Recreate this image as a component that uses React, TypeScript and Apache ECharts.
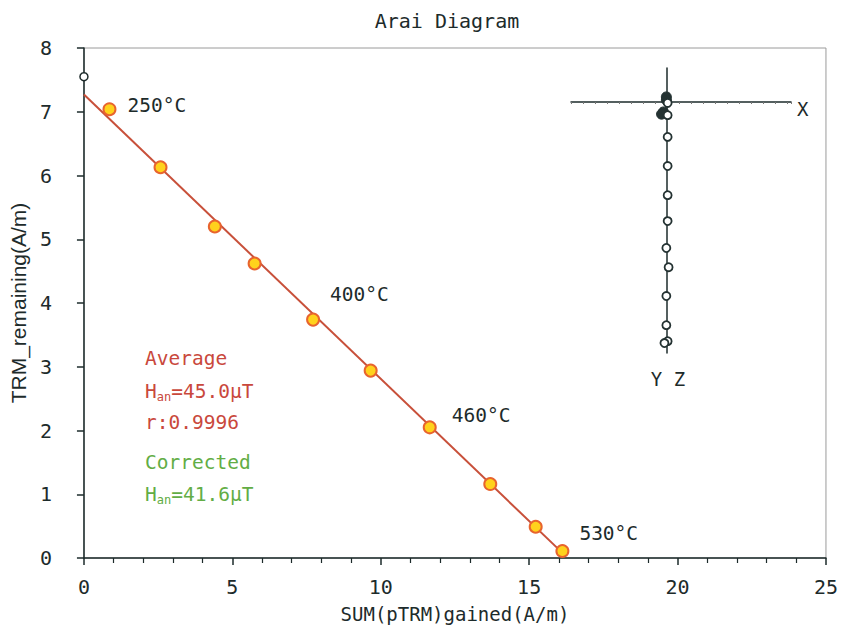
import React, { useEffect, useRef } from "react";
import * as echarts from "echarts";

// ---- Arai diagram data ----
const nrmX = [0];
const nrmY = [7.55];
const pTRMGained = [0.86, 2.58, 4.41, 5.75, 7.72, 9.66, 11.65, 13.69, 15.22, 16.12];
const trmRemaining = [7.04, 6.13, 5.2, 4.62, 3.74, 2.94, 2.05, 1.16, 0.49, 0.11];
const tempLabels = ["250°C", "", "", "", "400°C", "", "460°C", "", "", "530°C"];
const fitX = [0, 16.12];
const fitY = [7.27, 0.08];

// ---- Zijderveld inset data ----
const zijVertX = [0.02, 0.02, 0.02, 0.02, 0.02, 0.02, -0.02, 0.05, -0.02, -0.02, 0.02, -0.08];
const zijVertZ = [0.03, 0.41, 1.09, 2.0, 2.91, 3.72, 4.56, 5.16, 6.06, 6.97, 7.47, 7.53];
const zijHorX = [-0.02, -0.02, -0.11, -0.17];
const zijHorY = [-0.16, -0.06, 0.31, 0.38];

const MONO = "DejaVu Sans Mono";
const INK = "#1d2b2b";
const RED = "#c9483c";
const GREEN = "#62ad45";

const labelOffsets: Record<number, [number, number]> = {
  0: [11, -4],
  4: [10, -25],
  6: [15, -12],
  9: [10, -17],
};

export default function App() {
  const ref = useRef<HTMLDivElement>(null);

  useEffect(() => {
    document.body.style.margin = "0";
    if (!ref.current) return;
    const chart = echarts.init(ref.current, null, { renderer: "svg" });

    const araiData = pTRMGained.map((x, i) => {
      const off = labelOffsets[i];
      return {
        value: [x, trmRemaining[i]],
        label: tempLabels[i]
          ? {
              show: true,
              position: "right",
              distance: 0,
              offset: off,
              formatter: tempLabels[i],
              fontFamily: MONO,
              fontSize: 19.5,
              color: INK,
            }
          : { show: false },
      };
    });

    const option: any = {
      animation: false,
      backgroundColor: "#ffffff",
      title: {
        text: "Arai Diagram",
        left: 442,
        top: 6,
        textAlign: "center",
        textStyle: { fontFamily: MONO, fontSize: 20, fontWeight: "normal", color: INK },
      },
      grid: [
        {
          left: 78,
          right: 14,
          top: 48,
          bottom: 75,
          show: true,
          borderColor: "#9a9a9a",
          borderWidth: 1,
          backgroundColor: "transparent",
        },
        { left: 571, width: 220, top: 68, height: 285 },
      ],
      xAxis: [
        {
          gridIndex: 0,
          type: "value",
          min: 0,
          max: 25,
          interval: 5,
          name: "SUM(pTRM)gained(A/m)",
          nameLocation: "middle",
          nameGap: 46,
          nameTextStyle: { fontFamily: MONO, fontSize: 19, color: INK },
          axisLine: { show: true, onZero: false, lineStyle: { color: INK, width: 1.5 } },
          axisTick: { show: true, length: 7, lineStyle: { color: INK, width: 1.5 } },
          minorTick: { show: true, splitNumber: 5, length: 5, lineStyle: { color: INK, width: 1.2 } },
          axisLabel: { margin: 19, fontFamily: MONO, fontSize: 20, color: INK },
          splitLine: { show: false },
        },
        {
          gridIndex: 1,
          type: "value",
          min: -3,
          max: 3.875,
          interval: 0.375,
          axisLine: { show: true, onZero: true, lineStyle: { color: INK, width: 1.5 } },
          axisTick: { show: true, length: 2, inside: false, lineStyle: { color: "#777", width: 1 } },
          axisLabel: { show: false },
          splitLine: { show: false },
        },
      ],
      yAxis: [
        {
          gridIndex: 0,
          type: "value",
          min: 0,
          max: 8,
          interval: 1,
          name: "TRM_remaining(A/m)",
          nameLocation: "middle",
          nameGap: 50,
          nameTextStyle: { fontFamily: "Liberation Sans", fontSize: 21, color: INK },
          axisLine: { show: true, onZero: false, lineStyle: { color: INK, width: 1.5 } },
          axisTick: { show: true, length: 7, lineStyle: { color: INK, width: 1.5 } },
          axisLabel: { margin: 32, fontFamily: MONO, fontSize: 20, color: INK },
          splitLine: { show: false },
        },
        {
          gridIndex: 1,
          type: "value",
          min: -1.0625,
          max: 7.84,
          inverse: true,
          axisLine: { show: true, onZero: true, lineStyle: { color: INK, width: 1.5 } },
          axisTick: { show: false },
          axisLabel: { show: false },
          splitLine: { show: false },
        },
      ],
      series: [
        {
          type: "line",
          xAxisIndex: 0,
          yAxisIndex: 0,
          data: fitX.map((x, i) => [x, fitY[i]]),
          showSymbol: false,
          symbol: "none",
          lineStyle: { color: "#c8503a", width: 2 },
          z: 2,
        },
        {
          type: "scatter",
          xAxisIndex: 0,
          yAxisIndex: 0,
          data: araiData,
          symbol: "circle",
          symbolSize: 12,
          itemStyle: { color: "#ffd21c", borderColor: "#e8642e", borderWidth: 2, opacity: 1 },
          z: 3,
        },
        {
          type: "scatter",
          xAxisIndex: 0,
          yAxisIndex: 0,
          data: nrmX.map((x, i) => [x, nrmY[i]]),
          symbol: "circle",
          symbolSize: 8,
          itemStyle: { color: "#ffffff", borderColor: INK, borderWidth: 1.5, opacity: 1 },
          z: 4,
        },
        {
          type: "scatter",
          xAxisIndex: 1,
          yAxisIndex: 1,
          data: zijHorX.map((x, i) => [x, zijHorY[i]]),
          symbol: "circle",
          symbolSize: 10,
          itemStyle: { color: "#243232", borderColor: "#243232", borderWidth: 1, opacity: 1 },
          z: 3,
        },
        {
          type: "scatter",
          xAxisIndex: 1,
          yAxisIndex: 1,
          data: zijVertX.map((x, i) => [x, zijVertZ[i]]),
          symbol: "circle",
          symbolSize: 8,
          itemStyle: { color: "#ffffff", borderColor: "#243232", borderWidth: 1.8, opacity: 1 },
          z: 4,
        },
      ],
      graphic: [
        {
          type: "text",
          x: 797,
          y: 109,
          style: { text: "X", font: `19px "${MONO}"`, fill: INK, verticalAlign: "middle", align: "left" },
        },
        {
          type: "text",
          x: 668,
          y: 379,
          style: { text: "Y Z", font: `19px "${MONO}"`, fill: INK, verticalAlign: "middle", align: "center" },
        },
        {
          type: "text",
          x: 145,
          y: 358,
          style: { text: "Average", font: `19.5px "${MONO}"`, fill: RED, verticalAlign: "middle", align: "left" },
        },
        {
          type: "text",
          x: 145,
          y: 391,
          style: {
            text: "{a|H}{s|an}{a|=45.0μT}",
            fill: RED,
            verticalAlign: "middle",
            align: "left",
            rich: {
              a: { fontFamily: MONO, fontSize: 19.5, lineHeight: 24, color: RED },
              s: { fontFamily: MONO, fontSize: 12, lineHeight: 12, verticalAlign: "bottom", color: RED },
            },
          },
        },
        {
          type: "text",
          x: 145,
          y: 422,
          style: { text: "r:0.9996", font: `19.5px "${MONO}"`, fill: RED, verticalAlign: "middle", align: "left" },
        },
        {
          type: "text",
          x: 145,
          y: 462,
          style: { text: "Corrected", font: `19.5px "${MONO}"`, fill: GREEN, verticalAlign: "middle", align: "left" },
        },
        {
          type: "text",
          x: 145,
          y: 494,
          style: {
            text: "{a|H}{s|an}{a|=41.6μT}",
            fill: GREEN,
            verticalAlign: "middle",
            align: "left",
            rich: {
              a: { fontFamily: MONO, fontSize: 19.5, lineHeight: 24, color: GREEN },
              s: { fontFamily: MONO, fontSize: 12, lineHeight: 12, verticalAlign: "bottom", color: GREEN },
            },
          },
        },
      ],
    };

    chart.setOption(option);
    return () => chart.dispose();
  }, []);

  return <div ref={ref} style={{ width: 841, height: 633 }} />;
}
